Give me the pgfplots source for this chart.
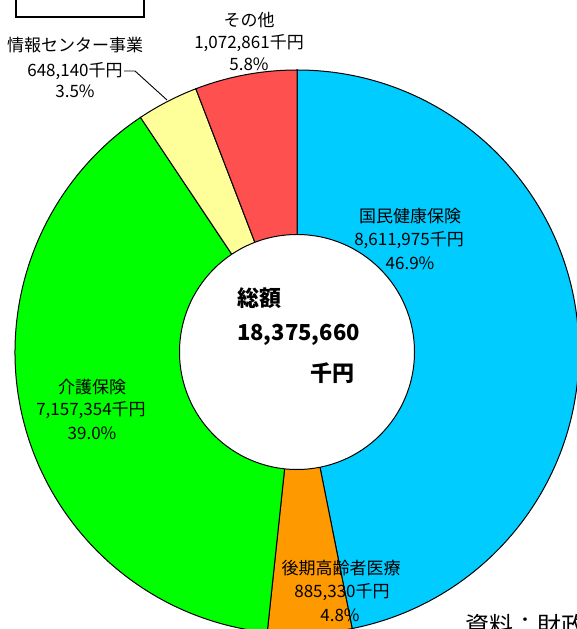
\documentclass[border=0pt]{standalone}
\usepackage{fontspec}
\setmainfont{Noto Sans CJK JP}
\usepackage{pgfplots}
\pgfplotsset{compat=1.18}
\definecolor{cBlue}{HTML}{00CCFF}
\definecolor{cOrange}{HTML}{FF9900}
\definecolor{cGreen}{HTML}{00FF00}
\definecolor{cYellow}{HTML}{FFFF99}
\definecolor{cRed}{HTML}{FF5050}
% values in million yen
\def\vA{8.611975}% 国民健康保険
\def\vB{0.885330}% 後期高齢者医療
\def\vC{7.157354}% 介護保険
\def\vD{0.648140}% 情報センター事業
\def\vE{1.072861}% その他
\pgfmathsetmacro\tot{\vA+\vB+\vC+\vD+\vE}
\pgfmathsetmacro\aA{90}
\pgfmathsetmacro\aB{\aA-360*\vA/\tot}
\pgfmathsetmacro\aC{\aB-360*\vB/\tot}
\pgfmathsetmacro\aD{\aC-360*\vC/\tot}
\pgfmathsetmacro\aE{\aD-360*\vD/\tot}
\pgfmathsetmacro\aF{\aE-360*\vE/\tot}
\newcommand{\lbl}{\fontsize{17pt}{20pt}\selectfont}
\newcommand{\ctr}{\fontsize{22pt}{26pt}\selectfont\bfseries}
\begin{document}
\begin{tikzpicture}
\begin{axis}[at={(0,0)}, anchor=south west, scale only axis,
  width=577pt, height=629pt, xmin=0, xmax=577, ymin=0, ymax=629,
  hide axis, clip=true]
\def\R{282pt}
\def\r{117.5pt}
\filldraw[fill=cBlue, draw=black, line width=1pt] (axis cs:297,277) -- ++(\aA:\R) arc[start angle=\aA, end angle=\aB, radius=\R] -- cycle;
\filldraw[fill=cOrange, draw=black, line width=1pt] (axis cs:297,277) -- ++(\aB:\R) arc[start angle=\aB, end angle=\aC, radius=\R] -- cycle;
\filldraw[fill=cGreen, draw=black, line width=1pt] (axis cs:297,277) -- ++(\aC:\R) arc[start angle=\aC, end angle=\aD, radius=\R] -- cycle;
\filldraw[fill=cYellow, draw=black, line width=1pt] (axis cs:297,277) -- ++(\aD:\R) arc[start angle=\aD, end angle=\aE, radius=\R] -- cycle;
\filldraw[fill=cRed, draw=black, line width=1pt] (axis cs:297,277) -- ++(\aE:\R) arc[start angle=\aE, end angle=\aF, radius=\R] -- cycle;
\filldraw[fill=white, draw=black, line width=1pt] (axis cs:297,277) circle[radius=\r];
% leader line
\draw[black, line width=0.9pt] (axis cs:124,558) -- (axis cs:135,558) -- (axis cs:167,529);
% box top-left
\draw[black, line width=1.3pt] (axis cs:16,650) rectangle (axis cs:144,612);
% labels
\node[font=\lbl] at (axis cs:249,609) {その他};
\node[font=\lbl] at (axis cs:249,586) {1,072,861千円};
\node[font=\lbl] at (axis cs:249,565) {5.8\%};
\node[font=\lbl] at (axis cs:75,584) {情報センター事業};
\node[font=\lbl] at (axis cs:75,558) {648,140千円};
\node[font=\lbl] at (axis cs:75,538) {3.5\%};
\node[font=\lbl] at (axis cs:410,413) {国民健康保険};
\node[font=\lbl] at (axis cs:409,389) {8,611,975千円};
\node[font=\lbl] at (axis cs:410,366) {46.9\%};
\node[font=\lbl] at (axis cs:92,242) {介護保険};
\node[font=\lbl] at (axis cs:91,219) {7,157,354千円};
\node[font=\lbl] at (axis cs:92,196) {39.0\%};
\node[font=\lbl] at (axis cs:341,61) {後期高齢者医療};
\node[font=\lbl] at (axis cs:342,37) {885,330千円};
\node[font=\lbl] at (axis cs:340,14) {4.8\%};
\node[font=\ctr, anchor=west, inner sep=0pt] at (axis cs:237,331) {総額};
\node[font=\ctr, anchor=west, inner sep=0pt] at (axis cs:237,294) {18,375,660};
\node[font=\ctr, anchor=east, inner sep=0pt] at (axis cs:355,256) {千円};
\node[font=\fontsize{24pt}{28pt}\selectfont, anchor=west, inner sep=0pt] at (axis cs:465,4) {資料：財政課};
\end{axis}
\pgfresetboundingbox
\useasboundingbox (0,0) rectangle (577pt,629pt);
\end{tikzpicture}
\end{document}
